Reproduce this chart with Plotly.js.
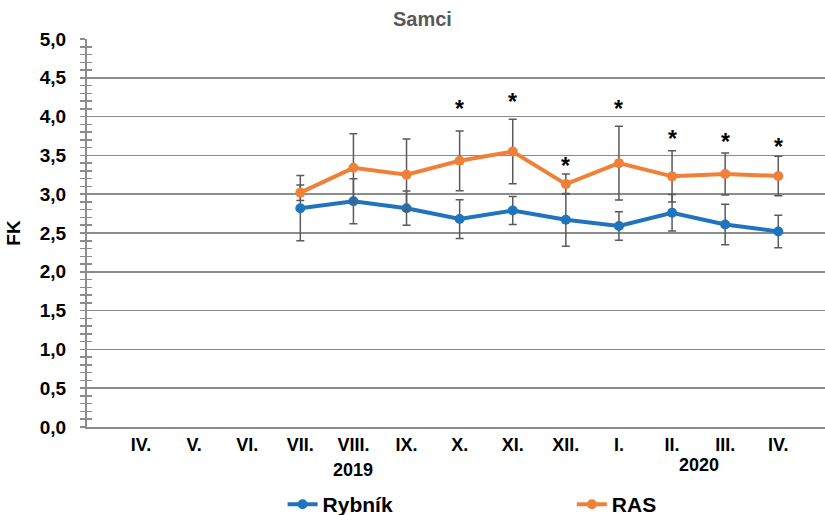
<!DOCTYPE html>
<html>
<head>
<meta charset="utf-8">
<script src="https://cdn.plot.ly/plotly-3.0.1.min.js"></script>
<style>
  html, body { margin: 0; padding: 0; background: #fff; }
  #chart { width: 825px; height: 515px; }
</style>
</head>
<body>
<div id="chart"></div>
<script>
// ---- data ----
const months = ['IV.', 'V.', 'VI.', 'VII.', 'VIII.', 'IX.', 'X.', 'XI.', 'XII.', 'I.', 'II.', 'III.', 'IV.'];
const rybnik    = [null, null, null, 2.82, 2.91, 2.82, 2.68, 2.79, 2.67, 2.59, 2.76, 2.61, 2.52];
const rybnikErr = [null, null, null, 0.42, 0.29, 0.22, 0.25, 0.18, 0.34, 0.185, 0.235, 0.26, 0.21];
const ras       = [null, null, null, 3.02, 3.34, 3.25, 3.43, 3.55, 3.13, 3.40, 3.23, 3.26, 3.235];
const rasErr    = [null, null, null, 0.10, 0.44, 0.46, 0.385, 0.415, 0.13, 0.475, 0.33, 0.27, 0.255];
const starMonthIdx = [6, 7, 8, 9, 10, 11, 12];
const starY        = [4.15, 4.24, 3.42, 4.15, 3.76, 3.72, 3.66];
const years = ['2019', '2020'];
const yearPos = [4, 10.5];

const xIdx = months.map((m, i) => i);
const FONT = 'Liberation Sans, Arial, sans-serif';
const GRID = '#8c8c8c';
const BLUE = '#1f74bd';
const ORANGE = '#f08038';
const ERR = '#5a5a5a';

const traces = [
  {
    x: xIdx, y: rybnik, name: 'Rybník', type: 'scatter', mode: 'lines+markers',
    line: {color: BLUE, width: 4}, marker: {color: BLUE, size: 10},
    error_y: {type: 'data', array: rybnikErr, visible: true, color: ERR, thickness: 1.5, width: 4},
    legend: 'legend', connectgaps: false
  },
  {
    x: xIdx, y: ras, name: 'RAS', type: 'scatter', mode: 'lines+markers',
    line: {color: ORANGE, width: 4}, marker: {color: ORANGE, size: 10},
    error_y: {type: 'data', array: rasErr, visible: true, color: ERR, thickness: 1.5, width: 4},
    legend: 'legend2', connectgaps: false
  },
  { x: [null], y: [null], yaxis: 'y2', showlegend: false, hoverinfo: 'skip', mode: 'markers' }
];

const annotations = [];
starMonthIdx.forEach((mi, k) => {
  annotations.push({
    x: mi, y: starY[k], xref: 'x', yref: 'y', text: '*', showarrow: false,
    font: {family: FONT, size: 23, color: '#000', weight: 'bold'}, yanchor: 'middle', yshift: -4
  });
});
years.forEach((t, k) => {
  annotations.push({
    x: yearPos[k], y: k === 0 ? -0.111 : -0.098, xref: 'x', yref: 'paper', text: t,
    showarrow: false, font: {family: FONT, size: 18, color: '#000', weight: 'bold'}, yanchor: 'middle'
  });
});

const layout = {
  width: 825, height: 515,
  margin: {l: 87, r: 0, t: 39, b: 88, autoexpand: false},
  paper_bgcolor: '#fff', plot_bgcolor: '#fff',
  separators: ', ',
  font: {family: FONT, color: '#000'},
  title: {text: 'Samci', font: {family: FONT, size: 20, color: '#595959', weight: 'bold'}, x: 0.512, xanchor: 'center', y: 0.963, yanchor: 'middle'},
  xaxis: {
    range: [-1.017, 12.88], tickvals: xIdx, ticktext: months,
    tickfont: {family: FONT, size: 18, color: '#000', weight: 'bold'},
    showgrid: false, zeroline: false, showline: true, linecolor: GRID, linewidth: 2,
    ticks: '', ticklabelstandoff: 0
  },
  yaxis: {
    range: [0, 5], dtick: 0.5, tickformat: '.1f',
    tickfont: {family: FONT, size: 19, color: '#000', weight: 'bold'},
    showgrid: true, gridcolor: GRID, gridwidth: 1.5,
    zeroline: false, showline: true, linecolor: GRID, linewidth: 2,
    ticks: 'outside', ticklen: 5, tickwidth: 1.5, tickcolor: GRID,
    minor: {dtick: 0.1, ticks: 'outside', ticklen: 5, tickwidth: 1.5, tickcolor: GRID, showgrid: false},
    ticklabelstandoff: 10,
    title: {text: 'FK', font: {family: FONT, size: 19, color: '#000', weight: 'bold'}, standoff: 14}
  },
  yaxis2: {
    overlaying: 'y', side: 'left', range: [0, 5], dtick: 0.5,
    showticklabels: false, showgrid: false, zeroline: false, showline: false,
    ticks: 'inside', ticklen: 5, tickwidth: 1.5, tickcolor: GRID,
    minor: {dtick: 0.1, ticks: 'inside', ticklen: 5, tickwidth: 1.5, tickcolor: GRID, showgrid: false}
  },
  legend: {
    x: 0.265, y: -0.2, xanchor: 'left', yanchor: 'middle', orientation: 'h',
    font: {family: FONT, size: 21, color: '#000', weight: 'bold'}, bgcolor: 'rgba(0,0,0,0)'
  },
  legend2: {
    x: 0.657, y: -0.2, xanchor: 'left', yanchor: 'middle', orientation: 'h',
    font: {family: FONT, size: 21, color: '#000', weight: 'bold'}, bgcolor: 'rgba(0,0,0,0)'
  },
  annotations: annotations,
  showlegend: true
};

Plotly.newPlot('chart', traces, layout, {displayModeBar: false, staticPlot: true});
</script>
</body>
</html>
